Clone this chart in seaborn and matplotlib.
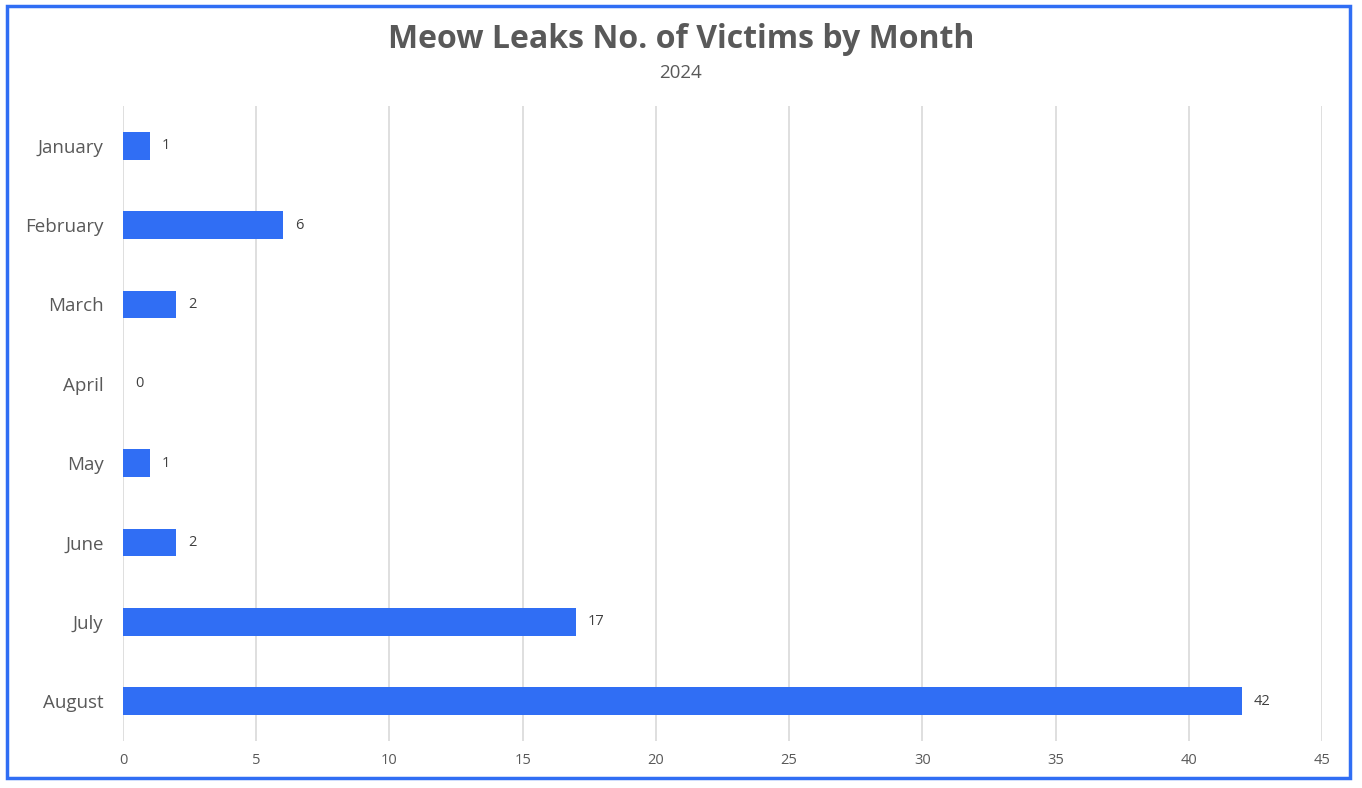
import pandas as pd
import matplotlib.pyplot as plt
import seaborn as sns
from matplotlib.patches import Rectangle

months = ["January", "February", "March", "April", "May", "June", "July", "August"]
victims = [1, 6, 2, 0, 1, 2, 17, 42]
x_ticks = [0, 5, 10, 15, 20, 25, 30, 35, 40, 45]

df = pd.DataFrame({"month": months, "victims": victims})

sns.set_theme(style="white")
plt.rcParams["font.family"] = ["Open Sans", "DejaVu Sans"]

fig = plt.figure(figsize=(13.62, 7.88), dpi=100)
ax = fig.add_axes([123 / 1362, 1 - 741 / 788, 1199 / 1362, 635 / 788])

sns.barplot(data=df, x="victims", y="month", color="#306EF4",
            width=0.35, saturation=1, linewidth=0, ax=ax)

for i, v in enumerate(df["victims"]):
    ax.text(v + 0.45, i, str(v), va="center", ha="left", fontsize=10.5, color="#404040")

ax.set_xlim(0, 45)
ax.set_xticks(x_ticks)
ax.xaxis.grid(True, color="#D9D9D9", linewidth=1.2)
ax.set_axisbelow(True)
for s in ax.spines.values():
    s.set_visible(False)
ax.tick_params(axis="x", length=0, labelsize=10.5, labelcolor="#595959", pad=9)
ax.tick_params(axis="y", length=0, labelsize=13.5, labelcolor="#595959", pad=14)
ax.set_xlabel("")
ax.set_ylabel("")

fig.text(0.5, 1 - 40 / 788, "Meow Leaks No. of Victims by Month", ha="center", va="center",
         fontsize=23, fontweight="bold", color="#595959")
fig.text(0.5, 1 - 73 / 788, "2024", ha="center", va="center", fontsize=13.5, color="#595959")

fig.patches.append(Rectangle((7 / 1362, 1 - 778 / 788), 1343 / 1362, 772 / 788,
                             transform=fig.transFigure, fill=False,
                             edgecolor="#306EF4", linewidth=2.5))

fig.savefig("out.png", dpi=100)
